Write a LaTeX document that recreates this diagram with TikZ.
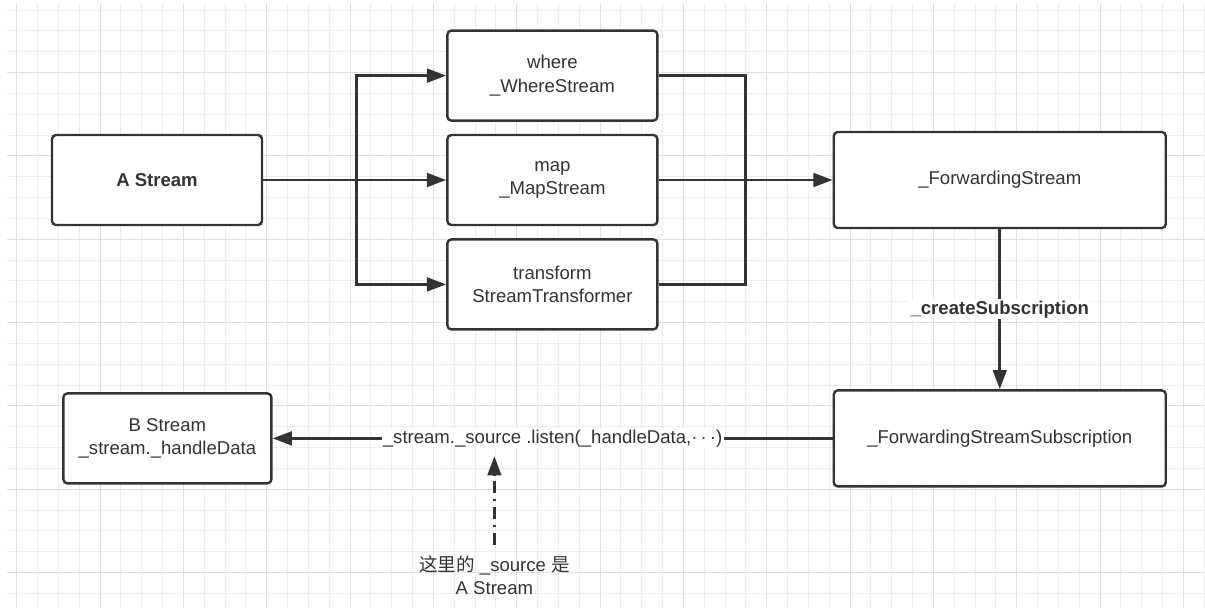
\documentclass[tikz,border=0pt]{standalone}
\usepackage{fontspec}
\setmainfont{Liberation Sans}
\newfontfamily\cjk{Noto Sans CJK SC}
\usetikzlibrary{arrows.meta,positioning,calc}
\definecolor{ink}{HTML}{333333}
\definecolor{edge}{HTML}{333333}
\definecolor{gridminor}{HTML}{EDEDED}
\definecolor{gridmajor}{HTML}{E0E0E0}
\tikzset{
  >={Triangle[length=4.8mm,width=3.4mm]},
  every node/.style={font=\fontsize{13.2pt}{16.5pt}\selectfont,text=ink},
  box/.style={draw=edge,line width=1.7pt,rounded corners=1mm,fill=white,align=center,minimum width=52.5mm,minimum height=22.5mm,inner sep=2pt},
  widebox/.style={box,minimum width=83mm,minimum height=24mm},
  arrow/.style={->,line width=2pt,draw=edge},
  joinline/.style={line width=2pt,draw=edge},
  dashdotarr/.style={->,line width=2pt,draw=edge,dash pattern=on 3.2mm off 1.3mm on 0.7mm off 1.3mm},
  caption/.style={fill=white,inner sep=1pt},
  minorline/.style={draw=gridminor,line width=0.7pt},
  majorline/.style={draw=gridmajor,line width=0.7pt},
}

\begin{document}
\begin{tikzpicture}[node distance=3mm and 45mm]

% page and background grid
\fill[white] (0,0) rectangle (301.25mm,-152mm);
\useasboundingbox (0,0) rectangle (301.25mm,-152mm);
\foreach \i in {0,...,57}
  \draw[minorline] ({4.17mm+\i*5.2083mm},-0.75mm) -- ++(0,-151.25mm);
\foreach \j in {0,...,28}
  \draw[minorline] (1.75mm,{-2.5mm-\j*5.2083mm}) -- ++(299.5mm,0);
\foreach \i in {0,...,14}
  \draw[majorline] ({4.17mm+\i*20.833mm},-0.75mm) -- ++(0,-151.25mm);
\foreach \j in {0,...,6}
  \draw[majorline] (1.75mm,{-18.125mm-\j*20.833mm}) -- ++(299.5mm,0);

\node[box] (astream) at (39.25mm,-45mm) {\textbf{A Stream}};
\node[box,right=45.75mm of astream] (map) {map\\\_MapStream};
\node[box,above=of map] (where) {where\\\_WhereStream};
\node[box,below=of map] (transform) {transform\\StreamTransformer};
\node[widebox,right=43.5mm of map] (fwd) {\_ForwardingStream};
\node[widebox,below=40mm of fwd] (sub) {\_ForwardingStreamSubscription};
\node[box,minimum width=52mm,left=140mm of sub] (bstream) {B Stream\\\_stream.\_handleData};

\coordinate (split) at ($(astream.east)+(23.25mm,0)$);
\coordinate (join) at ($(map.east)+(21.75mm,0)$);

\draw[arrow] (astream.east) -- (map.west);
\draw[arrow] (split) |- (where.west);
\draw[arrow] (split) |- (transform.west);
\draw[joinline] (where.east) -| (join) |- (transform.east);
\draw[arrow] (map.east) -- (fwd.west);
\draw[arrow] (fwd.south) -- node[caption]{\textbf{\_createSubscription}} (sub.north);
\draw[arrow] (sub.west) -- node[caption] (listen) {\_stream.\_source .listen(\_handleData,·\,·\,·)} (bstream.east);

\node[align=center,inner sep=0pt] (srcnote) at (123.6mm,-143.9mm) {{\cjk 这里的} \_source {\cjk 是}\\A Stream};
\draw[dashdotarr,shorten <=2.6mm,shorten >=1.6mm] (srcnote.north) -- (srcnote.north |- listen.south);

\end{tikzpicture}
\end{document}
